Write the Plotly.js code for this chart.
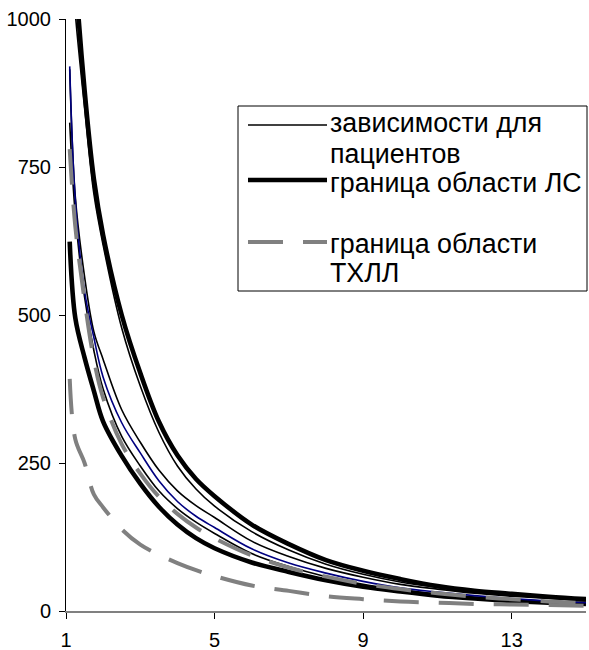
<!DOCTYPE html>
<html>
<head>
<meta charset="utf-8">
<script src="https://cdn.plot.ly/plotly-3.0.1.min.js"></script>
<style>html,body{margin:0;padding:0;background:#fff;}#chart{width:589px;height:650px;}</style>
</head>
<body>
<div id="chart"></div>
<script>
// ---- data ----
const xVals = [1.1, 1.25, 1.5, 1.75, 2, 2.5, 3, 3.5, 4, 4.5, 5, 6, 7, 8, 9, 10, 11, 12, 13, 14, 15];

// boundary of the "ЛС" region (thick black)
const lsUpper = [1250, 1080, 880, 730, 635, 500, 402, 320, 263, 223, 194, 146, 113, 86, 68, 54, 42, 34, 29, 24, 20];
const lsLower = [624, 495, 428, 372, 320, 262, 215, 176, 146, 123, 106, 82, 66, 52, 41, 33, 26, 21, 17, 14, 12];

// patient curves (thin black + one blue)
const patientC = [1150, 1010, 850, 705, 618, 478, 380, 302, 245, 206, 177, 134, 103, 79, 62, 49, 40, 33, 27, 23, 19];
const patientB = [915, 700, 565, 472, 425, 340, 285, 238, 203, 178, 158, 118, 92, 72, 57, 45, 37, 30, 25, 21, 17];
const patientA = [825, 670, 530, 440, 375, 295, 245, 203, 173, 150, 131, 97, 75, 58, 45, 36, 29, 23, 19, 16, 13];
const patientBlue = [920, 695, 540, 462, 395, 318, 267, 220, 185, 160, 141, 105, 81, 64, 50, 39, 32, 26, 21, 17, 14];

// boundary of the "ТХЛЛ" region (gray dashed)
const thllUpper = [780, 650, 525, 425, 360, 282, 232, 193, 164, 141, 123, 94, 73, 58, 46, 37, 30, 24, 20, 16, 13];
const thllLower = [392, 290, 250, 197, 175, 138, 112, 95, 81, 69, 59, 43, 34, 25, 20, 16, 14, 12, 11, 10, 9];

const xTickVals = [1, 5, 9, 13];
const xTickText = ['1', '5', '9', '13'];
const yTickVals = [0, 250, 500, 750, 1000];
const yTickText = ['0', '250', '500', '750', '1000'];

const legendLabels = [['зависимости для', 'пациентов'], ['граница области ЛС'], ['граница области', 'ТХЛЛ']];

// ---- styles ----
const thin = {color: '#000000', width: 1.6};
const thick = {color: '#000000', width: 4.6};
const blueLine = {color: '#000080', width: 1.6};
const dashed = {color: '#808080', width: 4, dash: '35px,20px'};

function tr(y, line) {
  return {x: xVals, y: y, type: 'scatter', mode: 'lines', hoverinfo: 'skip',
          line: Object.assign({shape: 'spline', smoothing: 1}, line)};
}

const traces = [
  tr(lsUpper, thick), tr(lsLower, thick),
  tr(patientC, thin), tr(patientB, thin), tr(patientA, thin),
  tr(patientBlue, blueLine),
  tr(thllUpper, dashed), tr(thllLower, dashed)
];

// ---- layout geometry (px) ----
const W = 589, H = 650;
const M = {l: 66, r: 3, t: 19, b: 39};
const PW = W - M.l - M.r, PH = H - M.t - M.b;
const px = x => (x - M.l) / PW;
const py = y => (H - M.b - y) / PH;

const FONT = 'Liberation Sans, Arial, sans-serif';

// manual legend (box, samples, labels)
const box = {x0: 238, x1: 587, y0: 106, y1: 291};
const sampleX0 = 248, sampleX1 = 327, textX = 329;
const rows = [
  {y: 125, style: thin, text: [[legendLabels[0][0], 123], [legendLabels[0][1], 154]]},
  {y: 180, style: thick, text: [[legendLabels[1][0], 183]]},
  {y: 242, style: dashed, text: [[legendLabels[2][0], 244], [legendLabels[2][1], 273]]}
];

const shapes = [{type: 'rect', xref: 'paper', yref: 'paper',
  x0: px(box.x0), x1: px(box.x1), y0: py(box.y1), y1: py(box.y0),
  line: {color: '#000', width: 1}, fillcolor: '#fff', layer: 'above'}];
const annotations = [];
rows.forEach(r => {
  shapes.push({type: 'line', xref: 'paper', yref: 'paper', layer: 'above',
    x0: px(sampleX0), x1: px(sampleX1), y0: py(r.y), y1: py(r.y),
    line: {color: r.style.color, width: r.style.width, dash: r.style.dash || 'solid'}});
  r.text.forEach(t => annotations.push({xref: 'paper', yref: 'paper', x: px(textX), y: py(t[1]),
    xanchor: 'left', yanchor: 'middle', showarrow: false, text: t[0], borderpad: 0,
    font: {family: FONT, size: 26.8, color: '#000'}}));
});

const layout = {
  width: W, height: H, margin: M, showlegend: false,
  paper_bgcolor: '#fff', plot_bgcolor: '#fff',
  font: {family: FONT, size: 20, color: '#000'},
  xaxis: {range: [1, 15], tickmode: 'array', tickvals: xTickVals, ticktext: xTickText,
    showgrid: false, zeroline: false, showline: true, linecolor: '#808080', linewidth: 1.5,
    ticks: 'outside', ticklen: 6, tickcolor: '#000', tickwidth: 1, ticklabelstandoff: 4,
    tickfont: {family: FONT, size: 20, color: '#000'}},
  yaxis: {range: [0, 1000], tickmode: 'array', tickvals: yTickVals, ticktext: yTickText,
    showgrid: false, zeroline: false, showline: true, linecolor: '#000', linewidth: 1,
    ticks: 'outside', ticklen: 6, tickcolor: '#000', tickwidth: 1, ticklabelstandoff: 4,
    tickfont: {family: FONT, size: 20, color: '#000'}},
  shapes: shapes, annotations: annotations
};

Plotly.newPlot('chart', traces, layout, {staticPlot: true, displayModeBar: false});
</script>
</body>
</html>
